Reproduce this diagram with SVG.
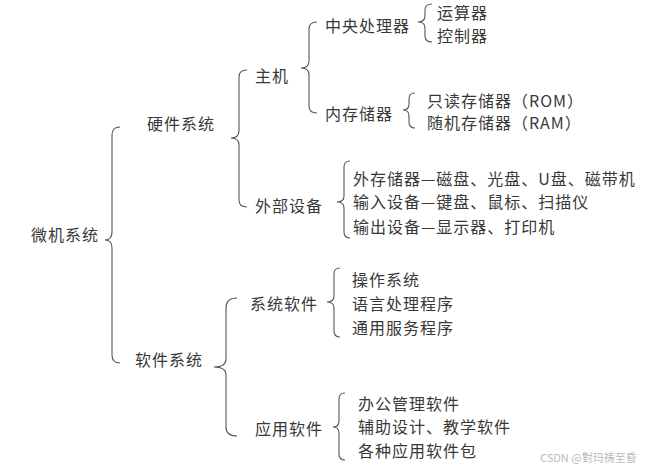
<svg xmlns="http://www.w3.org/2000/svg" width="647" height="468" viewBox="0 0 647 468">
<style>
text{font-family:"Noto Sans CJK SC","Noto Sans",sans-serif;font-size:16px;fill:#383838;dominant-baseline:central;letter-spacing:1px}
.b{fill:none;stroke:#555;stroke-width:1.1}
.wm{font-family:"Noto Sans CJK SC","Noto Sans",sans-serif;font-size:11px;fill:#bbb;letter-spacing:0}
</style>
<rect width="647" height="468" fill="#fff"/>
<g id="connectors">
<path class="b" d="M120,127 Q112,127 112,135 L112,232 Q112,240 105,240 Q112,240 112,248 L112,355 Q112,363 120,363"/>
<path class="b" d="M247,70 Q239,70 239,77 L239,131 Q239,138 231,138 Q239,138 239,145 L239,200 Q239,207 247,207"/>
<path class="b" d="M317,22 Q309,22 309,29 L309,61 Q309,68 301,68 Q309,68 309,75 L309,106 Q309,113 317,113"/>
<path class="b" d="M432,4 Q425,4 425,10 L425,16 Q425,22 418,22 Q425,22 425,28 L425,36 Q425,42 432,42"/>
<path class="b" d="M415,93 Q409,93 409,99 L409,104 Q409,110 403,110 Q409,110 409,116 L409,122 Q409,128 415,128"/>
<path class="b" d="M350,161 Q344,161 344,167 L344,196 Q344,202 337,202 Q344,202 344,208 L344,232 Q344,238 350,238"/>
<path class="b" d="M237,298 Q226,298 226,308 L226,359 Q226,367 214,367 Q226,367 226,375 L226,427 Q226,436 237,436"/>
<path class="b" d="M340,268 Q334,268 334,274 L334,296 Q334,302 327,302 Q334,302 334,308 L334,331 Q334,337 340,337"/>
<path class="b" d="M345,393 Q339,393 339,399 L339,421 Q339,427 333,427 Q339,427 339,433 L339,454 Q339,460 345,460"/>
</g>
<g id="n-root"><text x="31" y="234">微机系统</text></g>
<g id="n-hw"><text x="147" y="123">硬件系统</text></g>
<g id="n-sw"><text x="135" y="359">软件系统</text></g>
<g id="n-host"><text x="255" y="75">主机</text></g>
<g id="n-periph"><text x="255" y="205">外部设备</text></g>
<g id="n-cpu"><text x="325" y="25">中央处理器</text></g>
<g id="n-mem"><text x="325" y="113">内存储器</text></g>
<g id="n-alu"><text x="437" y="12">运算器</text></g>
<g id="n-ctrl"><text x="437" y="35">控制器</text></g>
<g id="n-rom"><text x="427" y="100">只读存储器（ROM）</text></g>
<g id="n-ram"><text x="427" y="122">随机存储器（RAM）</text></g>
<g id="n-ext"><text x="353" y="178">外存储器—磁盘、光盘、U盘、磁带机</text></g>
<g id="n-in"><text x="353" y="201">输入设备—键盘、鼠标、扫描仪</text></g>
<g id="n-out"><text x="353" y="226">输出设备—显示器、打印机</text></g>
<g id="n-syssw"><text x="250" y="303">系统软件</text></g>
<g id="n-appsw"><text x="255" y="428">应用软件</text></g>
<g id="n-os"><text x="352" y="279">操作系统</text></g>
<g id="n-lang"><text x="352" y="303">语言处理程序</text></g>
<g id="n-util"><text x="352" y="327">通用服务程序</text></g>
<g id="n-office"><text x="358" y="403">办公管理软件</text></g>
<g id="n-cad"><text x="358" y="426">辅助设计、教学软件</text></g>
<g id="n-pkg"><text x="358" y="450">各种应用软件包</text></g>
<text class="wm" x="540" y="457">CSDN @對玛祷至昏</text>
</svg>
